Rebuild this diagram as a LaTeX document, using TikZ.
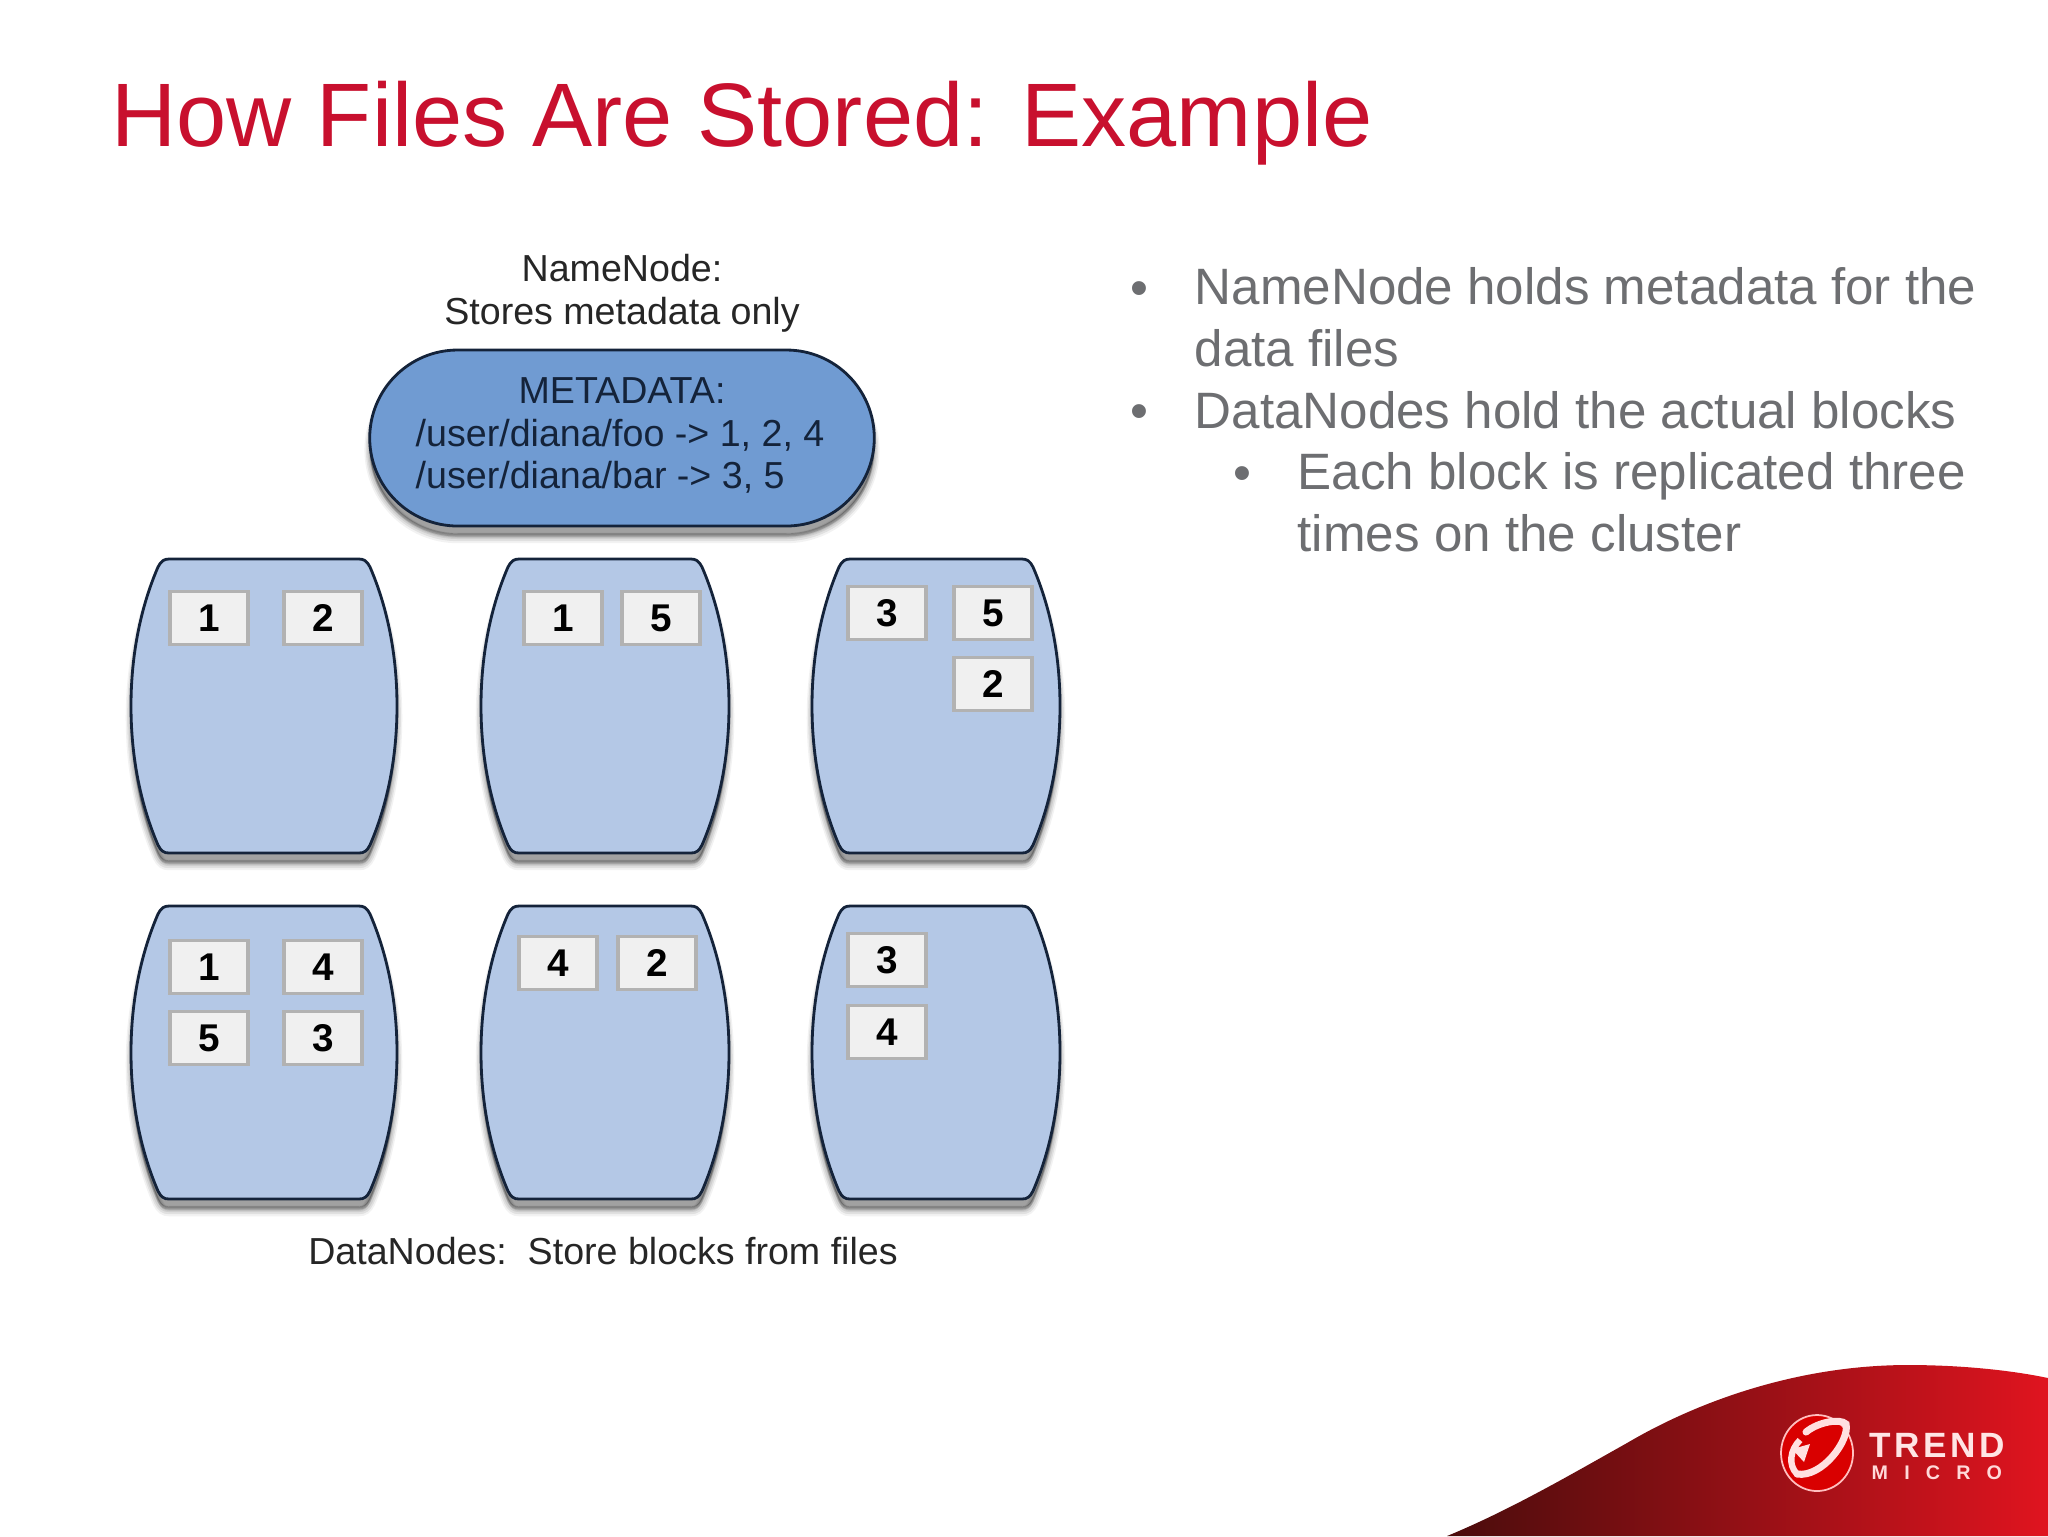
\documentclass[tikz,border=0pt]{standalone}
\usepackage{fontspec}
\setmainfont{Liberation Sans}
\usetikzlibrary{shapes.misc,shapes.geometric,arrows}
\definecolor{trendred}{HTML}{C8102E}
\definecolor{bodygray}{HTML}{6D6E71}
\definecolor{nnblue}{HTML}{709BD2}
\definecolor{dnblue}{HTML}{B4C8E6}
\definecolor{edgeblue}{HTML}{14233A}
\definecolor{swdark}{HTML}{4A0C0C}
\definecolor{swmid}{HTML}{861618}
\definecolor{swlight}{HTML}{E0141F}
\tikzset{softshadow/.style={
    preaction={draw=black,line width=3pt,opacity=.05,fill=black,transform canvas={yshift=-3.4pt}},
    preaction={draw=black,line width=2.2pt,opacity=.07,fill=black,transform canvas={yshift=-3.2pt}},
    preaction={draw=black,line width=1.4pt,opacity=.08,fill=black,transform canvas={yshift=-3pt}},
    preaction={draw=black,line width=.7pt,opacity=.10,fill=black,transform canvas={yshift=-2.6pt}},
    preaction={draw=black,line width=.2pt,opacity=.12,fill=black,transform canvas={yshift=-2.2pt}}},
  nn/.style={rounded rectangle, draw=edgeblue, line width=.8pt, fill=nnblue,
    minimum width=528*0.1mm, minimum height=176*0.1mm, softshadow},
  dn/.style={draw=edgeblue, line width=.8pt, fill=dnblue, softshadow},
  bk/.style={rectangle, draw=black!30, line width=1.1pt, fill=black!6,
    minimum width=78*0.1mm, minimum height=53*0.1mm, inner sep=0pt,
    font=\fontsize{11}{13}\selectfont\bfseries},
  lb/.style={font=\fontsize{10.7}{12}\selectfont, text=black!85, inner sep=0pt},
  bodytext/.style={anchor=base west, align=left, inner sep=0pt, text=bodygray,
    font=\fontsize{14.55}{17.4}\selectfont}}
\begin{document}
\begin{tikzpicture}[x=0.1mm,y=-0.1mm]
  \path[use as bounding box,fill=white] (0,0) rectangle (2048,1536);

  % slide heading and bullets
  \node[anchor=base west,inner sep=0pt,text=trendred,font=\fontsize{25.65}{28}\selectfont]
    (title) at (111,146) {How Files Are Stored: Example};
  \node[bodytext] (b1) at (1194,366) {NameNode holds metadata for the\\data files};
  \node[bodytext] (b2) at (1194,428) {DataNodes hold the actual blocks};
  \node[bodytext] (b3) at (1297,551) {Each block is replicated three\\times on the cluster};
  \node[bodytext] (d1) at (1130,305) {•};
  \node[bodytext] (d2) at (1130,428) {•};
  \node[bodytext] (d3) at (1233,490) {•};

  % namenode
  \node[lb] (nntop) at (622,268) {NameNode:};
  \node[lb] (nnsub) at (622,315) {Stores metadata only};
  \node[nn] (nn) at (622,438) {};
  \node[lb,text=edgeblue] (md0) at (622,391) {METADATA:};
  \node[lb,text=edgeblue,anchor=west] (md1) at (415,435) {/user/diana/foo -> 1, 2, 4};
  \node[lb,text=edgeblue,anchor=west] (md2) at (415,477) {/user/diana/bar -> 3, 5};

  % datanodes
  \foreach \xa/\xb in {131/397,481/729,812/1060}
    \foreach \ya/\yb in {559/853,906/1199}
      \draw[dn] (\xa,{(\ya+\yb)/2})
        .. controls (\xa,{\ya+85}) and ({\xa+14},{\ya+38}) .. ({\xa+27},{\ya+8})
        .. controls ({\xa+30},{\ya+2}) and ({\xa+33},\ya) .. ({\xa+38},\ya)
        -- ({\xb-38},\ya)
        .. controls ({\xb-33},\ya) and ({\xb-30},{\ya+2}) .. ({\xb-27},{\ya+8})
        .. controls ({\xb-14},{\ya+38}) and (\xb,{\ya+85}) .. (\xb,{(\ya+\yb)/2})
        .. controls (\xb,{\yb-85}) and ({\xb-14},{\yb-38}) .. ({\xb-27},{\yb-8})
        .. controls ({\xb-30},{\yb-2}) and ({\xb-33},\yb) .. ({\xb-38},\yb)
        -- ({\xa+38},\yb)
        .. controls ({\xa+33},\yb) and ({\xa+30},{\yb-2}) .. ({\xa+27},{\yb-8})
        .. controls ({\xa+14},{\yb-38}) and (\xa,{\yb-85}) .. (\xa,{(\ya+\yb)/2}) -- cycle;

  % blocks
  \foreach \nm/\bx/\by/\txt in {a1/209/618/1,a2/323/618/2,b1/563/618/1,b2/661/618/5,
      c1/887/613/3,c2/993/613/5,c3/993/684/2,
      d1/209/967/1,d2/323/967/4,d3/209/1038/5,d4/323/1038/3,
      e1/558/963/4,e2/657/963/2,f1/887/960/3,f2/887/1032/4}
    \node[bk] (\nm) at (\bx,\by) {\txt};

  \node[lb] (dncap) at (603,1251) {DataNodes:\ \ Store blocks from files};

  % corner swoosh and logo
  \path[left color=swdark, middle color=swmid, right color=swlight]
    (1447,1536) .. controls (1510,1510) and (1570,1475) .. (1627,1443)
    .. controls (1700,1400) and (1800,1365) .. (1908,1365)
    .. controls (1960,1365) and (2010,1370) .. (2048,1378)
    -- (2048,1536) -- cycle;
  \node[ellipse,minimum width=72*0.1mm,minimum height=76*0.1mm,inner sep=0pt,fill=red!85!black,
    draw=white!75!red,line width=.5pt] (logo) at (1817,1453) {};
  \draw[white!88!red,line width=2pt,line cap=round] (1797,1474) .. controls (1822,1478) and (1850,1440) .. (1846,1424)
    .. controls (1840,1418) and (1818,1422) .. (1806,1432);
  \draw[white!88!red,line width=1.8pt] (1797,1474) .. controls (1788,1465) and (1790,1450) .. (1800,1440);
  \fill[white!88!red] (1792,1449) -- (1810,1444) -- (1804,1462) -- cycle;
  \node[inner sep=0pt,text=white!90!red,font=\fontsize{10}{12}\selectfont\bfseries,anchor=base west]
    (trend) at (1869,1457) {T\kern1pt R\kern1pt E\kern1pt N\kern1pt D};
  \node[inner sep=0pt,text=white!85!red,font=\fontsize{5.6}{7}\selectfont\bfseries,anchor=base west]
    (micro) at (1871,1479) {M\kern4.6pt I\kern4.6pt C\kern4.6pt R\kern4.6pt O};
\end{tikzpicture}
\end{document}
